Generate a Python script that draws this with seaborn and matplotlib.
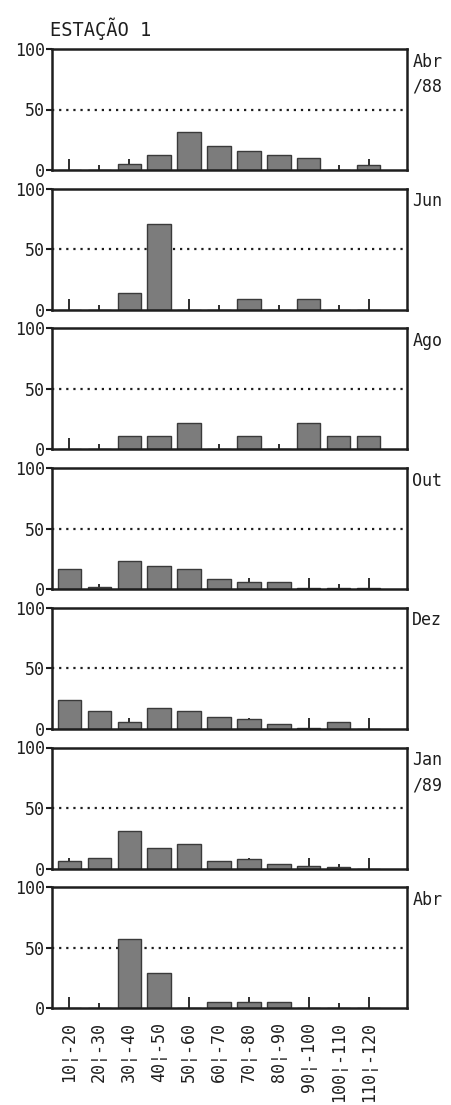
import matplotlib.pyplot as plt
import numpy as np
import pandas as pd
import seaborn as sns

# Length classes (mm) and frequency (%) per sampling month
classes = ["10¦-20", "20¦-30", "30¦-40", "40¦-50", "50¦-60", "60¦-70",
           "70¦-80", "80¦-90", "90¦-100", "100¦-110", "110¦-120"]
months = ["Abr\n/88", "Jun", "Ago", "Out", "Dez", "Jan\n/89", "Abr"]

abr88 = [0, 0, 5, 12, 31, 20, 16, 12, 10, 0, 4]
jun88 = [0, 0, 14, 71, 0, 0, 9, 0, 9, 0, 0]
ago88 = [0, 0, 11, 11, 22, 0, 11, 0, 22, 11, 11]
out88 = [17, 2, 23, 19, 17, 8, 6, 6, 1, 1, 1]
dez88 = [24, 15, 6, 17, 15, 10, 8, 4, 1, 6, 0]
jan89 = [6, 9, 31, 17, 20, 6, 8, 4, 2, 1, 0]
abr89 = [0, 0, 57, 29, 0, 5, 5, 5, 0, 0, 0]
series = [abr88, jun88, ago88, out88, dez88, jan89, abr89]

sns.set_theme(style="white")
plt.rcParams['font.family'] = ['DejaVu Sans Mono', 'DejaVu Sans']

W, H = 451, 1105
fig = plt.figure(figsize=(W / 100, H / 100), dpi=100)

ink = "#1e1e1e"
left_px, width_px = 52, 355
top0, step, h_px = 49, 139.7, 121

for i, (month, vals) in enumerate(zip(months, series)):
    top = top0 + step * i
    ax = fig.add_axes([left_px / W, 1 - (top + h_px) / H, width_px / W, h_px / H])
    df = pd.DataFrame({"classe": classes, "freq": vals})
    sns.barplot(data=df, x="classe", y="freq", ax=ax, color="#7c7c7c",
                saturation=1, width=0.77, edgecolor="#3a3a3a", linewidth=1.0)
    ax.axhline(50, color=ink, linestyle=(0, (1, 2.2)), linewidth=1.6, zorder=0.5)
    ax.set_xlim(-0.57, 11.27)
    ax.set_ylim(0, 100)
    ax.set_xlabel("")
    ax.set_ylabel("")
    for s in ax.spines.values():
        s.set_color(ink)
        s.set_linewidth(1.8)

    ax.set_yticks([0, 50, 100])
    ax.set_yticklabels(["0", "50", "100"], fontsize=12, color=ink)
    ax.tick_params(axis="y", left=True, direction="out", length=4, width=1.5,
                   color=ink, pad=1)

    pos = np.arange(len(classes))
    ax.set_xticks(pos[::2])
    ax.set_xticks(pos[1::2], minor=True)
    ax.tick_params(axis="x", which="major", bottom=True, direction="in",
                   length=8, width=1.3, color=ink)
    ax.tick_params(axis="x", which="minor", bottom=True, direction="in",
                   length=3.5, width=1.3, color=ink)
    if i == len(series) - 1:
        ax.set_xticklabels(classes[::2], rotation=90, fontsize=12, color=ink)
        ax.set_xticklabels(classes[1::2], minor=True, rotation=90, fontsize=12, color=ink)
        ax.tick_params(axis="x", which="both", pad=10)
    else:
        ax.set_xticklabels([])
        ax.set_xticklabels([], minor=True)

    ax.text(1.015, 0.97, month, transform=ax.transAxes, ha="left", va="top",
            fontsize=12, color=ink, linespacing=1.5)

fig.text(50 / W, 1 - 36 / H, "ESTAÇÃO 1", fontsize=13.5, color=ink, ha="left", va="baseline")

fig.savefig("out.png", dpi=100)
